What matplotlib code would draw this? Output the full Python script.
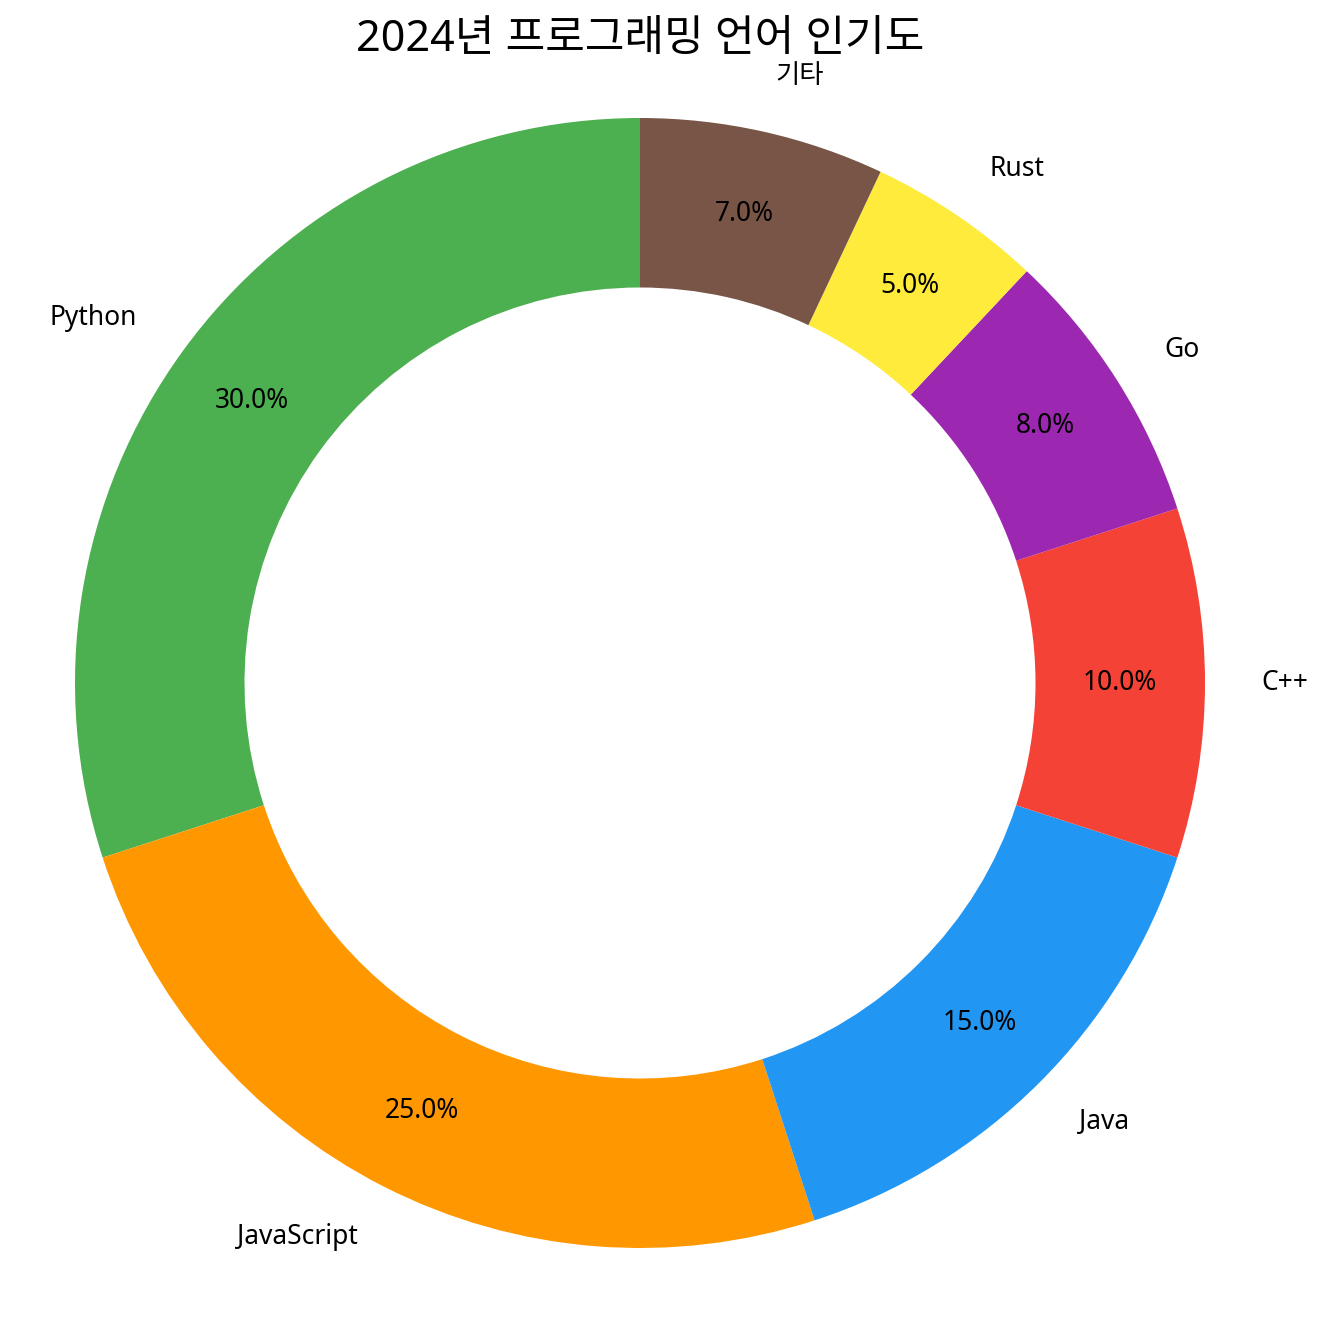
import matplotlib
matplotlib.use("Agg")
import matplotlib.pyplot as plt

plt.rcParams['font.family'] = ['Noto Sans', 'Noto Sans CJK KR', 'DejaVu Sans']

languages = ["Python", "JavaScript", "Java", "C++", "Go", "Rust", "기타"]
shares = [30, 25, 15, 10, 8, 5, 7]
colors = ["#4CAF50", "#FF9800", "#2196F3", "#F44336", "#9C27B0", "#FFEB3B", "#795548"]

fig = plt.figure(figsize=(13.34, 13.2), dpi=100)
ax = fig.add_axes([0, 0, 1, 1])

wedges, texts, autotexts = ax.pie(
    shares, labels=languages, colors=colors, autopct="%1.1f%%",
    startangle=90, pctdistance=0.85, labeldistance=1.1,
    wedgeprops=dict(width=0.3), textprops=dict(fontsize=19, fontweight="light"),
)

# place the donut: centre at (640, 683) px, radius 565 px
r = 565
ax.set_aspect("auto")
ax.set_xlim(-640 / r, (1334 - 640) / r)
ax.set_ylim(-(1320 - 683) / r, 683 / r)
ax.axis("off")

fig.text(640 / 1334, 1 - 40 / 1320, "2024년 프로그래밍 언어 인기도",
         ha="center", va="center", fontsize=31, fontweight="light")

fig.savefig("out.png", dpi=100)
